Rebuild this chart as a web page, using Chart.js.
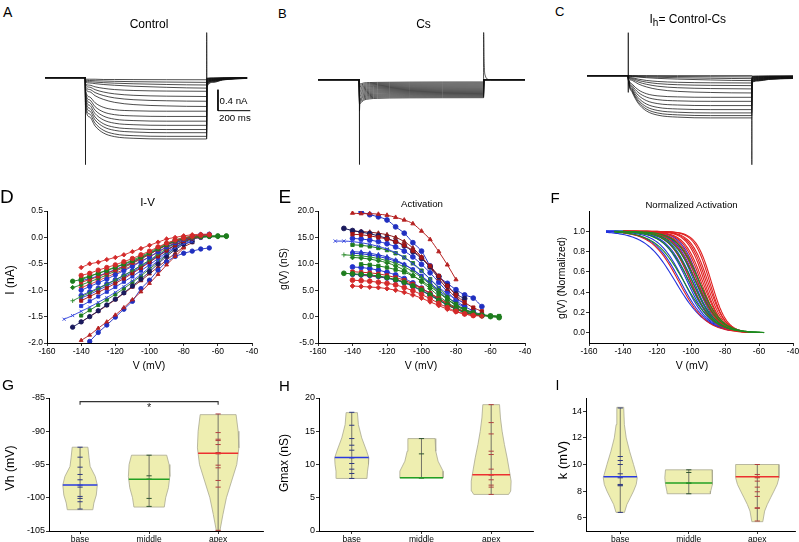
<!DOCTYPE html>
<html><head><meta charset="utf-8">
<title>Ih recordings</title>
<script src="https://cdn.jsdelivr.net/npm/chart.js@4.4.1/dist/chart.umd.min.js"></script>
<style>
html,body{margin:0;padding:0;background:#fff;}
body{width:799px;height:542px;overflow:hidden;position:relative;font-family:"Liberation Sans",Arial,Helvetica,sans-serif;color:#000;}
canvas{position:absolute;}
.t{position:absolute;white-space:nowrap;line-height:1;}
.c{transform:translate(-50%,-50%);}
.r{transform:translate(-50%,-50%) rotate(-90deg);}
sub{font-size:10px;vertical-align:-3px;line-height:0;}
</style></head><body>
<canvas id="cA"></canvas><canvas id="cB"></canvas><canvas id="cC"></canvas>
<canvas id="cD"></canvas><canvas id="cE"></canvas><canvas id="cF"></canvas>
<canvas id="cG"></canvas><canvas id="cH"></canvas><canvas id="cI"></canvas>

<div class="t" style="left:3px;top:5px;font-size:14px">A</div>
<div class="t" style="left:278px;top:6.5px;font-size:13px">B</div>
<div class="t" style="left:555px;top:5px;font-size:13px">C</div>
<div class="t" style="left:0px;top:187px;font-size:19px">D</div>
<div class="t" style="left:278.5px;top:187px;font-size:19px">E</div>
<div class="t" style="left:550.5px;top:189.5px;font-size:15px">F</div>
<div class="t" style="left:2px;top:377px;font-size:15.5px">G</div>
<div class="t" style="left:279px;top:378px;font-size:15px">H</div>
<div class="t" style="left:555.5px;top:377.5px;font-size:14px">I</div>

<div class="t c" style="left:149px;top:24px;font-size:12px">Control</div>
<div class="t c" style="left:423.5px;top:24px;font-size:12px">Cs</div>
<div class="t" style="left:649.5px;top:12.5px;font-size:12px">I<sub>h</sub>= Control-Cs</div>
<div class="t" style="left:219.5px;top:96px;font-size:9.7px">0.4 nA</div>
<div class="t" style="left:219px;top:113px;font-size:9.7px">200 ms</div>

<div class="t c" style="left:147.5px;top:202.5px;font-size:11.5px">I-V</div>
<div class="t c" style="left:422px;top:203.5px;font-size:9.7px">Activation</div>
<div class="t c" style="left:691.5px;top:204.5px;font-size:9.6px">Normalized Activation</div>

<div class="t r" style="left:10px;top:280px;font-size:12px">I (nA)</div>
<div class="t r" style="left:283.5px;top:269px;font-size:10.4px">g(V) (nS)</div>
<div class="t r" style="left:561.5px;top:278px;font-size:10.4px">g(V) (Normalized)</div>
<div class="t c" style="left:149px;top:365px;font-size:10.5px">V (mV)</div>
<div class="t c" style="left:421px;top:365px;font-size:10.5px">V (mV)</div>
<div class="t c" style="left:692px;top:365px;font-size:10.5px">V (mV)</div>
<div class="t r" style="left:10px;top:468px;font-size:12.3px">Vh (mV)</div>
<div class="t r" style="left:283.5px;top:463px;font-size:12px">Gmax (nS)</div>
<div class="t r" style="left:561.5px;top:460px;font-size:13px">k (mV)</div>

<script>
// ================= DATA =================
// A-C: current traces (nA) sampled at traceTime (ms)
const traceTime = [0,249,250,275,310,360,430,550,750,1000,1001,1040,1100,1250];
const controlTraces = [
 [0,0,-0.03,-0.03,-0.03,-0.035,-0.035,-0.037,-0.039,-0.04,-0.01,-0.005,-0.003,0],
 [0,0,-0.05,-0.054,-0.059,-0.064,-0.07,-0.077,-0.084,-0.09,-0.02,-0.01,-0.005,-0.002],
 [0,0,-0.07,-0.077,-0.085,-0.095,-0.105,-0.117,-0.13,-0.14,-0.03,-0.015,-0.008,-0.002],
 [0,0,-0.09,-0.101,-0.114,-0.13,-0.145,-0.164,-0.184,-0.2,-0.04,-0.02,-0.01,-0.003],
 [0,0,-0.11,-0.143,-0.175,-0.203,-0.227,-0.245,-0.256,-0.26,-0.05,-0.025,-0.012,-0.004],
 [0,0,-0.13,-0.181,-0.229,-0.273,-0.309,-0.337,-0.353,-0.36,-0.06,-0.03,-0.015,-0.005],
 [0,0,-0.16,-0.224,-0.285,-0.34,-0.386,-0.421,-0.441,-0.45,-0.07,-0.035,-0.018,-0.006],
 [0,0,-0.19,-0.269,-0.345,-0.413,-0.471,-0.514,-0.539,-0.55,-0.08,-0.04,-0.02,-0.006],
 [0,0,-0.22,-0.367,-0.48,-0.564,-0.611,-0.632,-0.64,-0.64,-0.09,-0.045,-0.022,-0.007],
 [0,0,-0.25,-0.422,-0.554,-0.652,-0.706,-0.73,-0.74,-0.74,-0.1,-0.05,-0.025,-0.008],
 [0,0,-0.28,-0.473,-0.621,-0.731,-0.792,-0.819,-0.83,-0.83,-0.11,-0.055,-0.028,-0.009],
 [0,0,-0.32,-0.527,-0.686,-0.804,-0.869,-0.898,-0.91,-0.91,-0.12,-0.06,-0.03,-0.01],
 [0,0,-0.36,-0.581,-0.751,-0.877,-0.946,-0.977,-0.99,-0.99,-0.13,-0.065,-0.033,-0.01],
 [0,0,-0.41,-0.634,-0.807,-0.935,-1.005,-1.037,-1.05,-1.05,-0.14,-0.07,-0.035,-0.011],
 [0,0,-0.46,-0.691,-0.869,-1.001,-1.074,-1.107,-1.12,-1.12,-0.16,-0.08,-0.04,-0.012],
 [0,0,-0.52,-0.748,-0.923,-1.053,-1.125,-1.157,-1.17,-1.17,-0.18,-0.09,-0.045,-0.014]
];
const csTraces = [
 [0,0,-0.085,-0.064,-0.055,-0.052,-0.05,-0.047,-0.045,-0.044,0,0,0,0],
 [0,0,-0.11,-0.086,-0.076,-0.072,-0.07,-0.067,-0.065,-0.064,0,0,0,0],
 [0,0,-0.135,-0.108,-0.097,-0.092,-0.09,-0.087,-0.085,-0.084,0,0,0,0],
 [0,0,-0.16,-0.13,-0.118,-0.113,-0.11,-0.107,-0.105,-0.104,0,0,0,0],
 [0,0,-0.185,-0.152,-0.138,-0.133,-0.13,-0.127,-0.125,-0.124,0,0,0,0],
 [0,0,-0.21,-0.174,-0.159,-0.153,-0.15,-0.147,-0.145,-0.144,0,0,0,0],
 [0,0,-0.235,-0.196,-0.18,-0.173,-0.17,-0.167,-0.165,-0.164,0,0,0,0],
 [0,0,-0.26,-0.218,-0.2,-0.194,-0.19,-0.187,-0.185,-0.184,0,0,0,0],
 [0,0,-0.285,-0.24,-0.221,-0.214,-0.21,-0.207,-0.205,-0.204,0,0,0,0],
 [0,0,-0.31,-0.262,-0.242,-0.234,-0.23,-0.227,-0.225,-0.224,0,0,0,0],
 [0,0,-0.335,-0.284,-0.263,-0.254,-0.25,-0.247,-0.245,-0.244,0,0,0,0],
 [0,0,-0.36,-0.306,-0.284,-0.275,-0.27,-0.267,-0.265,-0.264,0,0,0,0],
 [0,0,-0.385,-0.328,-0.304,-0.295,-0.29,-0.287,-0.285,-0.284,0,0,0,0],
 [0,0,-0.41,-0.35,-0.325,-0.315,-0.31,-0.307,-0.305,-0.304,0,0,0,0],
 [0,0,-0.435,-0.372,-0.346,-0.335,-0.33,-0.327,-0.325,-0.324,0,0,0,0],
 [0,0,-0.46,-0.394,-0.367,-0.356,-0.35,-0.347,-0.345,-0.344,0,0,0,0]
];
const ihTraces = [
 [0,0,0,0,0,0,0,0,0,0,-0.009,-0.007,-0.005,-0.004],
 [0,0,0,-0.003,-0.006,-0.009,-0.013,-0.017,-0.021,-0.025,-0.018,-0.014,-0.01,-0.007],
 [0,0,-0.005,-0.01,-0.016,-0.024,-0.031,-0.04,-0.049,-0.057,-0.027,-0.02,-0.015,-0.011],
 [0,0,-0.008,-0.017,-0.027,-0.039,-0.052,-0.066,-0.082,-0.095,-0.036,-0.027,-0.02,-0.014],
 [0,0,-0.01,-0.039,-0.066,-0.091,-0.111,-0.127,-0.136,-0.14,-0.045,-0.034,-0.025,-0.018],
 [0,0,-0.015,-0.054,-0.09,-0.124,-0.152,-0.173,-0.185,-0.19,-0.054,-0.041,-0.03,-0.022],
 [0,0,-0.02,-0.071,-0.12,-0.164,-0.202,-0.23,-0.246,-0.253,-0.063,-0.047,-0.035,-0.025],
 [0,0,-0.025,-0.092,-0.156,-0.214,-0.263,-0.3,-0.321,-0.33,-0.072,-0.054,-0.04,-0.029],
 [0,0,-0.03,-0.164,-0.267,-0.344,-0.386,-0.405,-0.413,-0.413,-0.081,-0.061,-0.045,-0.032],
 [0,0,-0.035,-0.194,-0.317,-0.408,-0.458,-0.481,-0.49,-0.49,-0.09,-0.068,-0.05,-0.036],
 [0,0,-0.04,-0.226,-0.369,-0.475,-0.534,-0.56,-0.571,-0.571,-0.099,-0.074,-0.054,-0.04],
 [0,0,-0.045,-0.256,-0.419,-0.54,-0.606,-0.636,-0.648,-0.648,-0.108,-0.081,-0.059,-0.043],
 [0,0,-0.05,-0.281,-0.461,-0.593,-0.665,-0.698,-0.711,-0.711,-0.117,-0.088,-0.064,-0.047],
 [0,0,-0.055,-0.302,-0.494,-0.635,-0.713,-0.748,-0.762,-0.762,-0.126,-0.095,-0.069,-0.05],
 [0,0,-0.06,-0.321,-0.524,-0.672,-0.754,-0.791,-0.806,-0.806,-0.135,-0.101,-0.074,-0.054]
];
const controlOnsetTime = [249.8,250.2,251],  controlOnsetCurrent = [0,-1.66,-0.52];
const controlOffsetTime = [999.8,1000.2,1001], controlOffsetCurrent = [-1.17,0.86,-0.18];
const csOnsetTime = [249.8,250.2,251,254],    csOnsetCurrent = [0,-1.62,-0.6,-0.35];
const csOffsetTime = [999.8,1000.2,1003,1010,1030], csOffsetCurrent = [-0.34,0.9,0.35,0.08,0];
const ihOnsetTime = [249.8,250.1,250.4,251],  ihOnsetCurrent = [0,0.82,-0.32,-0.02];
const ihOffsetTime = [999.8,1000.2,1001],     ihOffsetCurrent = [-0.8,-1.7,-0.12];
const scaleBarTime = [1070,1070,1270], scaleBarCurrent = [-0.23,-0.63,-0.63]; // 0.4 nA, 200 ms

// D-E: I-V and g(V) per cell, at the step voltages
const stepVoltages = [-150,-145,-140,-135,-130,-125,-120,-115,-110,-105,-100,-95,-90,-85,-80,-75,-70,-65,-60,-55];
const dStart = [-140,-140,-145,-140,-140,-140,-145,-140,-150,-145,-140,-140,-135,-140,-140,-145,-140,-140,-140,-140];
const dCurrent = [
 [-0.57,-0.50,-0.47,-0.42,-0.38,-0.33,-0.27,-0.21,-0.15,-0.09,-0.03,0.0,0.03,0.05,0.06,0.06],
 [-0.72,-0.68,-0.62,-0.57,-0.52,-0.46,-0.40,-0.33,-0.26,-0.18,-0.11,-0.05,-0.01,0.02,0.04,0.05],
 [-0.83,-0.80,-0.74,-0.68,-0.62,-0.56,-0.50,-0.43,-0.36,-0.28,-0.20,-0.12,-0.05,0.0,0.02,0.03,0.03,0.03,0.03],
 [-0.78,-0.73,-0.68,-0.63,-0.57,-0.51,-0.45,-0.38,-0.30,-0.22,-0.14,-0.07,-0.02,0.0,0.01,0.02,0.02,0.02],
 [-0.85,-0.80,-0.74,-0.68,-0.62,-0.55,-0.48,-0.40,-0.32,-0.23,-0.15,-0.08,-0.03,0.0,0.02,0.03],
 [-1.0,-0.93,-0.86,-0.79,-0.71,-0.63,-0.55,-0.46,-0.37,-0.27,-0.18,-0.10,-0.04,0.0,0.03,0.05],
 [-1.2,-1.12,-1.05,-0.97,-0.89,-0.81,-0.72,-0.63,-0.53,-0.43,-0.32,-0.21,-0.11,-0.04,0.0,0.01,0.02,0.02,0.02],
 [-1.2,-1.12,-1.04,-0.96,-0.87,-0.78,-0.68,-0.58,-0.47,-0.36,-0.25,-0.15,-0.07,-0.02,0.0],
 [-1.55,-1.48,-1.40,-1.32,-1.23,-1.14,-1.04,-0.93,-0.82,-0.70,-0.57,-0.44,-0.31,-0.20,-0.12,-0.08],
 [-1.70,-1.60,-1.50,-1.39,-1.28,-1.17,-1.05,-0.92,-0.79,-0.65,-0.50,-0.36,-0.23,-0.13,-0.08],
 [-1.48,-1.38,-1.28,-1.18,-1.08,-0.97,-0.85,-0.73,-0.60,-0.47,-0.33,-0.20,-0.09,-0.02,0.01,0.02,0.02,0.02],
 [-1.95,-1.85,-1.72,-1.60,-1.47,-1.33,-1.18,-1.03,-0.87,-0.70,-0.52,-0.36,-0.20],
 [-1.97,-1.80,-1.66,-1.51,-1.36,-1.21,-0.97,-0.81,-0.62,-0.46,-0.36,-0.30,-0.26,-0.22,-0.20],
 [-0.82,-0.78,-0.73,-0.67,-0.61,-0.54,-0.47,-0.39,-0.31,-0.22,-0.14,-0.07,-0.02,0.02,0.05,0.06],
 [-1.15,-1.08,-1.00,-0.92,-0.84,-0.75,-0.66,-0.56,-0.46,-0.35,-0.24,-0.14,-0.06,-0.01,0.02],
 [-0.95,-0.90,-0.84,-0.78,-0.71,-0.64,-0.57,-0.49,-0.41,-0.32,-0.23,-0.14,-0.07,-0.02,0.0,0.01,0.01,0.01,0.01],
 [-0.95,-0.89,-0.82,-0.75,-0.68,-0.61,-0.53,-0.45,-0.37,-0.28,-0.19,-0.11,-0.05,-0.01,0.01],
 [-1.30,-1.21,-1.12,-1.03,-0.94,-0.84,-0.74,-0.63,-0.52,-0.40,-0.28,-0.18,-0.10,-0.05],
 [-1.60,-1.50,-1.40,-1.29,-1.18,-1.06,-0.94,-0.82,-0.69,-0.56,-0.43,-0.30,-0.18,-0.10],
 [-1.10,-1.03,-0.96,-0.88,-0.80,-0.72,-0.63,-0.54,-0.44,-0.34,-0.24,-0.15,-0.08,-0.03,0.0,0.02]
];
const eStart = [-140,-140,-145,-135,-140,-140,-145,-140,-150,-145,-140,-140,-135,-140,-140,-140,-135,-140,-140,-140];
const eConductance = [
 [5.8,5.7,5.6,5.5,5.3,5.0,4.6,4.1,3.5,2.8,2.1,1.4,0.9,0.5,0.2,0.1],
 [6.9,6.8,6.7,6.5,6.3,6.0,5.5,4.9,4.2,3.4,2.5,1.7,1.0,0.5,0.2],
 [8.2,8.1,8.0,7.9,7.7,7.4,7.0,6.5,5.8,5.0,4.1,3.1,2.2,1.4,0.8,0.4,0.2,0.0,-0.2],
 [9.9,9.8,9.6,9.3,8.9,8.4,7.7,6.8,5.7,4.5,3.3,2.2,1.3,0.7,0.3,0.1,0.0],
 [8.5,8.4,8.3,8.1,7.8,7.4,6.9,6.2,5.4,4.4,3.4,2.4,1.6,0.9,0.4,0.1],
 [9.4,9.3,9.1,8.8,8.4,7.9,7.2,6.4,5.4,4.3,3.2,2.2,1.4,0.8,0.4,0.2],
 [11.7,11.6,11.5,11.3,11.0,10.6,10.1,9.4,8.5,7.4,6.1,4.7,3.3,2.1,1.2,0.6,0.3,0.1,0.0],
 [15.6,15.5,15.3,15.0,14.7,14.2,13.5,12.5,11.2,9.6,7.7,5.8,4.1,2.7,1.7,1.0],
 [14.3,14.3,14.2,14.0,13.7,13.3,12.8,12.1,11.2,10.0,8.6,7.1,5.6,4.3,3.3,2.6],
 [16.7,16.3,16.0,15.7,15.3,14.8,14.2,13.4,12.3,11.0,9.4,7.6,5.8,4.3,3.4],
 [13.6,13.5,13.3,13.0,12.6,12.0,11.2,10.1,8.7,7.1,5.4,3.8,2.4,1.4,0.8,0.4,0.2,0.1],
 [19.6,19.5,19.5,19.4,19.2,18.8,18.3,17.6,16.2,14.6,12.3,9.8,7.0],
 [19.8,19.3,18.9,18.3,17.0,15.8,14.0,12.4,9.6,7.6,6.3,5.1,4.1,3.5,1.9],
 [8.0,7.9,7.8,7.6,7.3,6.9,6.4,5.7,4.9,4.0,3.1,2.2,1.5,0.9,0.5,0.3],
 [12.3,12.2,12.0,11.7,11.3,10.7,9.9,8.9,7.6,6.2,4.7,3.3,2.1,1.3,0.8,0.5],
 [11.2,11.1,10.9,10.6,10.2,9.6,8.8,7.8,6.6,5.3,3.9,2.7,1.7,1.0,0.5,0.3,0.1,0.0],
 [7.8,7.7,7.5,7.3,7.0,6.6,6.0,5.3,4.4,3.5,2.5,1.6,0.9,0.4,0.2],
 [12.0,11.9,11.7,11.4,11.0,10.5,9.8,8.9,7.7,6.4,5.0,3.7,2.6,1.8],
 [16.2,16.1,16.0,15.8,15.5,15.0,14.2,13.0,11.3,9.3,7.2,5.2,3.6,2.4],
 [14.8,14.7,14.5,14.2,13.8,13.2,12.4,11.3,9.9,8.3,6.5,4.7,3.1,1.9,1.1]
];

// F: normalized activation fits (half-activation and slope, mV) by region
const fVhBase = [-109,-106,-104,-102,-101,-100,-99,-98,-97,-96,-95];
const fKBase = [9.0,8.0,7.5,7.0,7.0,6.5,6.5,6.0,6.0,6.0,5.5];
const fVhMiddle = [-104,-101,-99,-97,-95];
const fKMiddle = [8.5,7.5,7.0,7.0,6.5];
const fVhApex = [-107,-100,-97,-96,-95,-94,-93,-92,-91,-90,-89,-88];
const fKApex = [8.0,6.5,6.5,6.0,6.0,5.5,5.5,5.0,5.0,5.0,4.5,4.5];
const fRangeBase = [-150,-77], fRangeMiddle = [-145,-57], fRangeApex = [-140,-65];

// G-I: per-cell parameters by cochlear region
const regions = ['base','middle','apex'];
const vhBase = [-92.4,-93.9,-95.4,-96.5,-97.3,-98.1,-98.4,-99.8,-100.1,-100.6,-101.7];
const vhMiddle = [-93.6,-96.7,-97.2,-100.1,-101.3];
const vhApex = [-87.4,-90.2,-91.2,-91.4,-92.0,-93.2,-93.4,-95.1,-95.5,-97.4,-98.4,-104.9];
const gmaxBase = [17.85,15.9,13.9,12.9,12.15,11.05,11.0,10.15,9.3,8.65,7.9];
const gmaxMiddle = [13.9,11.6,8.0,8.0,8.0];
const gmaxApex = [19.0,16.3,14.6,12.0,11.5,9.3,8.5,8.4,7.7,6.9,6.6,5.5];
const kBase = [14.25,10.6,10.3,10.0,9.3,9.07,9.0,8.5,8.45,8.4,6.4];
const kMiddle = [9.6,9.4,8.6,8.6,7.8];
const kApex = [10.0,9.25,9.1,9.05,8.75,8.3,7.95,7.6,6.75,6.7,5.75,9.0];
const vhMedians = [-98.1,-97.2,-93.3];
const gmaxMedians = [11.05,8.0,8.45];
const kMedians = [9.07,8.6,9.07];
// violin density outlines (value levels, half-width in category units)
const vhBaseLevels = [-92.4,-94.0,-95.3,-96.8,-98.1,-99.6,-100.8,-101.8];
const vhBaseWidths = [0.114,0.13,0.146,0.22,0.25,0.235,0.2,0.185];
const vhMiddleLevels = [-93.6,-95.0,-96.8,-98.5,-100.0,-101.4];
const vhMiddleWidths = [0.255,0.29,0.3,0.28,0.24,0.22];
const vhApexLevels = [-87.5,-90,-92.5,-95,-97.5,-100,-102.5,-105];
const vhApexWidths = [0.26,0.29,0.3,0.27,0.195,0.12,0.07,0.025];
const gmaxBaseLevels = [17.8,16,14,12,11,10,9,7.9];
const gmaxBaseWidths = [0.081,0.095,0.143,0.214,0.245,0.24,0.226,0.218];
const gmaxMiddleLevels = [13.9,12,10.5,9,8.0];
const gmaxMiddleWidths = [0.195,0.205,0.238,0.31,0.31];
const gmaxApexLevels = [19,17,15,13,11,9,7.5,6,5.5];
const gmaxApexWidths = [0.12,0.133,0.157,0.19,0.229,0.262,0.286,0.28,0.25];
const kBaseLevels = [14.3,13,12,11,10,9,8.5,8,7.5,7,6.4];
const kBaseWidths = [0.05,0.06,0.087,0.136,0.194,0.248,0.233,0.194,0.146,0.097,0.062];
const kMiddleLevels = [9.6,9,8.5,8,7.8];
const kMiddleWidths = [0.34,0.35,0.34,0.32,0.315];
const kApexLevels = [10,9,8.5,8,7.5,7,6.5,5.7];
const kApexWidths = [0.316,0.316,0.29,0.243,0.194,0.146,0.107,0.08];
const sigFrom = 1, sigTo = 3, sigLevel = -85.55, sigDrop = -86.0;

// ================= STYLES =================
const FONT = '"Liberation Sans", Arial, Helvetica, sans-serif';
const seriesColor = ['#d42a2a','#d42a2a','#1e7d1e','#1e7d1e','#c62020','#2233cc','#2e8b2e','#a31515','#3344dd','#1a1a5c',
                     '#1e7d1e','#b52020','#1f2fbf','#2233cc','#2838c8','#1e7d1e','#d42a2a','#2233cc','#8b1a1a','#2233cc'];
const seriesMarker = ['rectRot','circle','circle','rect','rect','circle','cross','rect','crossRot','circle',
                      'rect','triangle','circle','circle','triangle','rectRot','rectRot','rect','triangle','circle'];
const regionColor = ['#2233dd','#1f8a1f','#e02020'];
const medianColor = ['#2a3ae0','#23a023','#ec3030'];
const tickColor = ['#303a80','#305530','#b04040'];

Chart.defaults.font.family = FONT;
Chart.defaults.color = '#000';

// ================= HELPERS =================
function place(id, L, T, W, H) {
  const c = document.getElementById(id);
  c.width = W; c.height = H; c.style.left = L + 'px'; c.style.top = T + 'px';
  return c;
}
function xy(xs, ys) { return xs.map((x, i) => ({x: x, y: ys[i]})); }
const baseOpts = () => ({responsive:false, animation:false, events:[],
  plugins:{legend:{display:false}, tooltip:{enabled:false}, title:{display:false}}});

function traceChart(id, box, xMax, traces, onT, onI, offT, offI, extraSets) {
  const cv = place(id, box[0], box[1], box[2], box[3]);
  const line = {showLine:true, borderColor:'#111', borderWidth:0.75, pointRadius:0};
  const ds = traces.map(v => Object.assign({data: xy(traceTime, v), cubicInterpolationMode:'monotone'}, line));
  ds.push(Object.assign({data: xy(onT, onI)}, line));
  ds.push(Object.assign({data: xy(offT, offI), cubicInterpolationMode:'monotone'}, line));
  (extraSets || []).forEach(s => ds.push(s));
  const o = baseOpts();
  o.layout = {padding:0};
  o.scales = {x:{type:'linear', display:false, min:0, max:xMax}, y:{type:'linear', display:false, min:-1.8, max:1.1}};
  return new Chart(cv, {type:'scatter', data:{datasets:ds}, options:o});
}

function framedChart(id, box, area, datasets, xs, ys, plugins) {
  const cv = place(id, box[0], box[1], box[2], box[3]);
  const yw = area[0] - box[0], xh = box[1] + box[3] - area[3];
  const padTop = area[1] - box[1], padRight = box[0] + box[2] - area[2];
  const mk = (extra, tickExtra, fit) => Object.assign({
      type:'linear',
      grid:{drawOnChartArea:false, drawTicks:true, tickLength:3, color:'#000', lineWidth:0.8},
      border:{display:true, color:'#000', width:1},
      afterFit: fit
    }, extra, {ticks: Object.assign({color:'#000', font:{size:8.5, family:FONT}, padding:1, maxRotation:0, autoSkip:false}, tickExtra)});
  const o = baseOpts();
  o.layout = {padding:{top:padTop, right:padRight, left:0, bottom:0}};
  o.scales = {
    x: mk(xs.opts, xs.ticks, s => { s.height = xh; }),
    y: mk(ys.opts, ys.ticks, s => { s.width = yw; })
  };
  return new Chart(cv, {type:'scatter', data:{datasets}, options:o, plugins: plugins || []});
}

function seriesPoints(start, values) {
  const i0 = stepVoltages.indexOf(start);
  return values.map((v, i) => ({x: stepVoltages[i0 + i], y: v}));
}
function widthAt(levels, widths, v) {
  for (let i = 0; i < levels.length - 1; i++) {
    if (v <= levels[i] && v >= levels[i+1]) {
      const f = (levels[i] - v) / (levels[i] - levels[i+1]);
      return widths[i] + f * (widths[i+1] - widths[i]);
    }
  }
  return v > levels[0] ? widths[0] : widths[widths.length - 1];
}
function violinSets(center, levels, widths, values, median, r) {
  const poly = [];
  levels.forEach((v, i) => poly.push({x: center + widths[i], y: v}));
  for (let i = levels.length - 1; i >= 0; i--) poly.push({x: center - widths[i], y: levels[i]});
  poly.push(poly[0]);
  const mw = widthAt(levels, widths, median);
  return [
    {data: poly, showLine:true, fill:'shape', backgroundColor:'rgba(238,238,176,1)', borderColor:'#aaa890', borderWidth:0.8, pointRadius:0, order:5},
    {data: [{x:center, y:Math.min(...values)}, {x:center, y:Math.max(...values)}], showLine:true, borderColor:'#555', borderWidth:0.8, pointRadius:0, order:4},
    {data: values.map(v => ({x:center, y:v})), showLine:false, pointStyle:'line', pointRadius:2.6, pointBorderWidth:1, pointBorderColor:tickColor[r], borderColor:tickColor[r], order:3},
    {data: [{x:center - mw, y:median}, {x:center + mw, y:median}], showLine:true, borderColor:medianColor[r], borderWidth:1.5, pointRadius:0, order:2}
  ];
}
const catTicks = {opts:{min:0, max:4, afterBuildTicks: a => { a.ticks = [1,2,3].map(v => ({value:v})); }}, ticks:{callback: v => regions[v-1]}};
function catX(min, max) { return {opts:Object.assign({}, catTicks.opts, {min:min, max:max}), ticks:catTicks.ticks}; }
const oneDec = v => Number(v).toFixed(1);

// ================= A, B, C =================
const scaleBar = {data: xy(scaleBarTime, scaleBarCurrent), showLine:true, borderColor:'#000', borderWidth:1, pointRadius:0};
traceChart('cA', [45, 20, 215, 152], 1330, controlTraces, controlOnsetTime, controlOnsetCurrent, controlOffsetTime, controlOffsetCurrent, [scaleBar]);
traceChart('cB', [318, 22, 207, 152], 1250, csTraces, csOnsetTime, csOnsetCurrent, csOffsetTime, csOffsetCurrent);
traceChart('cC', [587, 18, 206, 152], 1250, ihTraces, ihOnsetTime, ihOnsetCurrent, ihOffsetTime, ihOffsetCurrent);

// ================= D =================
const dSets = dCurrent.map((vals, i) => ({
  data: seriesPoints(dStart[i], vals), showLine:true, borderColor:seriesColor[i], backgroundColor:seriesColor[i],
  borderWidth:0.9, pointStyle:seriesMarker[i], pointRadius:2.2, pointBorderWidth:0.9,
  pointBackgroundColor:seriesColor[i], pointBorderColor:seriesColor[i]}));
framedChart('cD', [0, 200, 266, 160], [47, 211, 252, 343], dSets,
  {opts:{min:-160, max:-40}, ticks:{stepSize:20}},
  {opts:{min:-2, max:0.5}, ticks:{stepSize:0.5, callback: oneDec}});

// ================= E =================
const eSets = eConductance.map((vals, i) => ({
  data: seriesPoints(eStart[i], vals), showLine:true, cubicInterpolationMode:'monotone',
  borderColor:seriesColor[i], backgroundColor:seriesColor[i], borderWidth:1, pointStyle:seriesMarker[i],
  pointRadius:2.4, pointBorderWidth:0.9, pointBackgroundColor:seriesColor[i], pointBorderColor:seriesColor[i]}));
framedChart('cE', [270, 200, 269, 160], [318, 211, 525, 343], eSets,
  {opts:{min:-160, max:-40}, ticks:{stepSize:20}},
  {opts:{min:-5, max:20}, ticks:{stepSize:5, callback: oneDec}});

// ================= F =================
function boltzmann(vh, k, range) {
  const pts = [];
  for (let v = range[0]; v <= range[1]; v += 1) pts.push({x: v, y: 1 / (1 + Math.exp((v - vh) / k))});
  return pts;
}
const fSets = [];
[[fVhBase, fKBase, fRangeBase, 0, 3], [fVhMiddle, fKMiddle, fRangeMiddle, 1, 1], [fVhApex, fKApex, fRangeApex, 2, 2]].forEach(g => {
  g[0].forEach((vh, i) => fSets.push({data: boltzmann(vh, g[1][i], g[2]), showLine:true, borderColor:regionColor[g[3]],
    borderWidth:1.1, pointRadius:0, order:g[4]}));
});
framedChart('cF', [540, 200, 267, 160], [589, 211, 793, 343], fSets,
  {opts:{min:-160, max:-40}, ticks:{stepSize:20}},
  {opts:{min:-0.1, max:1.2, afterBuildTicks: a => { a.ticks = [0,0.2,0.4,0.6,0.8,1.0].map(v => ({value:v})); }}, ticks:{callback: oneDec}});

// ================= G =================
const gSets = [].concat(
  violinSets(1, vhBaseLevels, vhBaseWidths, vhBase, vhMedians[0], 0),
  violinSets(2, vhMiddleLevels, vhMiddleWidths, vhMiddle, vhMedians[1], 1),
  violinSets(3, vhApexLevels, vhApexWidths, vhApex, vhMedians[2], 2),
  [{data: [{x:sigFrom, y:sigDrop}, {x:sigFrom, y:sigLevel}, {x:sigTo, y:sigLevel}, {x:sigTo, y:sigDrop}],
    showLine:true, borderColor:'#333', borderWidth:1.1, pointRadius:0, order:1}]);
const starPlugin = {id:'sigStar', afterDatasetsDraw(chart) {
  const ctx = chart.ctx, x = chart.scales.x, y = chart.scales.y;
  ctx.save(); ctx.fillStyle = '#222'; ctx.font = '11px ' + FONT; ctx.textAlign = 'center'; ctx.textBaseline = 'middle';
  ctx.fillText('*', x.getPixelForValue((sigFrom + sigTo) / 2), y.getPixelForValue(sigDrop - 0.45));
  ctx.restore();
}};
framedChart('cG', [0, 388, 277, 158], [49, 398, 263, 531], gSets, catX(0.55, 3.65),
  {opts:{min:-105, max:-85}, ticks:{stepSize:5, font:{size:9, family:FONT}}}, [starPlugin]);

// ================= H =================
const hSets = [].concat(
  violinSets(1, gmaxBaseLevels, gmaxBaseWidths, gmaxBase, gmaxMedians[0], 0),
  violinSets(2, gmaxMiddleLevels, gmaxMiddleWidths, gmaxMiddle, gmaxMedians[1], 1),
  violinSets(3, gmaxApexLevels, gmaxApexWidths, gmaxApex, gmaxMedians[2], 2));
framedChart('cH', [270, 388, 277, 158], [319, 398, 533, 531], hSets, catX(0.53, 3.6),
  {opts:{min:0, max:20}, ticks:{stepSize:5, font:{size:9, family:FONT}}});

// ================= I =================
const iSets = [].concat(
  violinSets(1, kBaseLevels, kBaseWidths, kBase, kMedians[0], 0),
  violinSets(2, kMiddleLevels, kMiddleWidths, kMiddle, kMedians[1], 1),
  violinSets(3, kApexLevels, kApexWidths, kApex, kMedians[2], 2));
framedChart('cI', [537, 388, 272, 158], [586, 398, 795, 531], iSets, catX(0.5, 3.55),
  {opts:{min:5, max:15, afterBuildTicks: a => { a.ticks = [6,8,10,12,14].map(v => ({value:v})); }}, ticks:{font:{size:9, family:FONT}}});
</script>
</body></html>
